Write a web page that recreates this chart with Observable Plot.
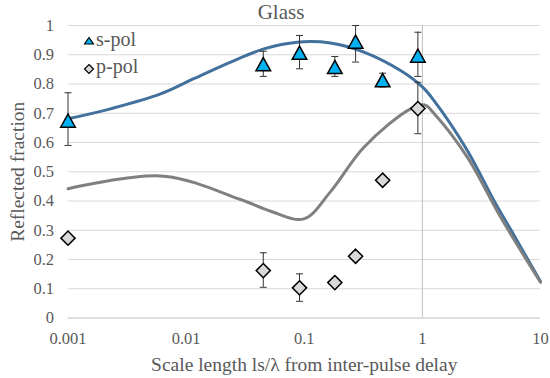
<!DOCTYPE html>
<html>
<head>
<meta charset="utf-8">
<script src="https://cdn.jsdelivr.net/npm/d3@7"></script>
<script src="https://cdn.jsdelivr.net/npm/@observablehq/plot@0.6"></script>
<style>
  html, body { margin: 0; padding: 0; background: #fff; }
  #wrap { position: relative; width: 550px; height: 378px; font-family: "Liberation Serif", "Times New Roman", serif; color: #595959; }
  #title { position: absolute; top: 2.4px; left: 281px; transform: translateX(-50%); font-size: 21px; line-height: 21px; white-space: nowrap; }
  #legend { position: absolute; left: 83px; top: 25.5px; font-size: 20px; line-height: 27.7px; }
  #legend div { white-space: nowrap; }
  #legend svg { vertical-align: middle; margin-right: 1px; }
  g[aria-label="x-axis label"] text, g[aria-label="y-axis label"] text { font-size: 19.5px; }
</style>
</head>
<body>
<div id="wrap">
  <div id="chart"></div>
  <div id="title">Glass</div>
  <div id="legend">
    <div><svg width="12" height="10"><path d="M6,1.5L10.5,8L1.5,8Z" fill="#00B0F0" stroke="#000" stroke-width="1.2"/></svg>s-pol</div>
    <div><svg width="12" height="12"><path d="M6,1.5L10.5,6L6,10.5L1.5,6Z" fill="#D9D9D9" stroke="#000" stroke-width="1.2"/></svg>p-pol</div>
  </div>
</div>
<script>
// ---- data ----
const xTicks = [0.001, 0.01, 0.1, 1, 10];
const yTicks = [0, 0.1, 0.2, 0.3, 0.4, 0.5, 0.6, 0.7, 0.8, 0.9, 1];
const xLabel = "Scale length ls/λ from inter-pulse delay";
const yLabel = "Reflected fraction";
const seriesNames = ["s-pol", "p-pol"];

const measX = [0.001, 0.045, 0.0912, 0.1815, 0.272, 0.461, 0.916];
const sY  = [0.675, 0.868, 0.907, 0.858, 0.945, 0.813, 0.897];
const sLo = [0.59, 0.826, 0.852, 0.826, 0.875, 0.79, 0.826];
const sHi = [0.77, 0.912, 0.966, 0.894, 1.0, 0.837, 0.977];
const pY  = [0.273, 0.162, 0.103, 0.121, 0.211, 0.471, 0.716];
const pLo = [null, 0.105, 0.057, null, null, null, 0.63];
const pHi = [null, 0.223, 0.151, null, null, null, 0.806];

const sModelX = [0.001, 0.00229, 0.00607, 0.0116, 0.0238, 0.0455, 0.0873, 0.167, 0.32, 0.653, 1, 1.25, 2.4, 4.03, 5.58, 10];
const sModelY = [0.681, 0.715, 0.766, 0.818, 0.875, 0.92, 0.943, 0.94, 0.909, 0.846, 0.79, 0.744, 0.573, 0.402, 0.303, 0.125];
const pModelX = [0.001, 0.00647, 0.0289, 0.0519, 0.0993, 0.167, 0.32, 0.794, 1.05, 1.25, 2.4, 4.59, 10];
const pModelY = [0.442, 0.485, 0.405, 0.365, 0.339, 0.432, 0.584, 0.715, 0.728, 0.7, 0.55, 0.345, 0.122];

// ---- tables ----
const sPts = measX.map((x, i) => ({x, y: sY[i], lo: sLo[i], hi: sHi[i]}));
const pPts = measX.map((x, i) => ({x, y: pY[i], lo: pLo[i], hi: pHi[i]}));
const errs = [...sPts, ...pPts].filter(d => d.lo != null);
const caps = errs.flatMap(d => [{x: d.x, y: d.lo}, {x: d.x, y: d.hi}]);
const sModel = sModelX.map((x, i) => ({x, y: sModelY[i]}));
const pModel = pModelX.map((x, i) => ({x, y: pModelY[i]}));

// ---- symbols ----
const triSym = {draw(ctx, size) { const r = Math.sqrt(size / Math.PI); const w = r, h = 0.9 * r;
  ctx.moveTo(0, -h); ctx.lineTo(w, h); ctx.lineTo(-w, h); ctx.closePath(); }};
const diaSym = {draw(ctx, size) { const r = Math.sqrt(size / Math.PI);
  ctx.moveTo(0, -r); ctx.lineTo(r, 0); ctx.lineTo(0, r); ctx.lineTo(-r, 0); ctx.closePath(); }};
const capSym = {draw(ctx, size) { const r = Math.sqrt(size / Math.PI);
  ctx.moveTo(-r, 0); ctx.lineTo(r, 0); }};

const chart = Plot.plot({
  width: 550, height: 378,
  marginLeft: 67.5, marginRight: 10, marginTop: 25, marginBottom: 60.5,
  style: {fontFamily: "Liberation Serif", fontSize: "16.5px", color: "#595959", background: "white", overflow: "visible"},
  x: {type: "log", domain: [0.001, 10]},
  y: {domain: [0, 1]},
  marks: [
    Plot.ruleY(yTicks.filter(d => d > 0), {stroke: "#D9D9D9", strokeWidth: 1}),
    Plot.ruleY([0], {stroke: "#BFBFBF", strokeWidth: 1}),
    Plot.ruleX([1], {stroke: "#BFBFBF", strokeWidth: 1}),
    Plot.axisX({ticks: xTicks, tickFormat: d => String(d), tickSize: 0, tickPadding: 14.5, label: xLabel, labelAnchor: "center", labelOffset: 53, labelArrow: "none"}),
    Plot.axisY({ticks: yTicks, tickFormat: d => String(d), tickSize: 0, tickPadding: 14, label: yLabel, labelAnchor: "center", labelOffset: 58, labelArrow: "none"}),
    Plot.line(sModel, {x: "x", y: "y", curve: "catmull-rom", stroke: "#41719C", strokeWidth: 3}),
    Plot.line(pModel, {x: "x", y: "y", curve: "catmull-rom", stroke: "#808080", strokeWidth: 3}),
    Plot.ruleX(errs, {x: "x", y1: "lo", y2: "hi", stroke: "#333", strokeWidth: 1}),
    Plot.dot(caps, {x: "x", y: "y", symbol: capSym, r: 3.5, stroke: "#333", strokeWidth: 1, fill: "none"}),
    Plot.dot(sPts, {x: "x", y: "y", symbol: triSym, r: 7.3, fill: "#00B0F0", stroke: "#000", strokeWidth: 1.5}),
    Plot.dot(pPts, {x: "x", y: "y", symbol: diaSym, r: 7.1, fill: "#D9D9D9", stroke: "#000", strokeWidth: 1.5})
  ]
});
document.getElementById("chart").appendChild(chart);
</script>
</body>
</html>
